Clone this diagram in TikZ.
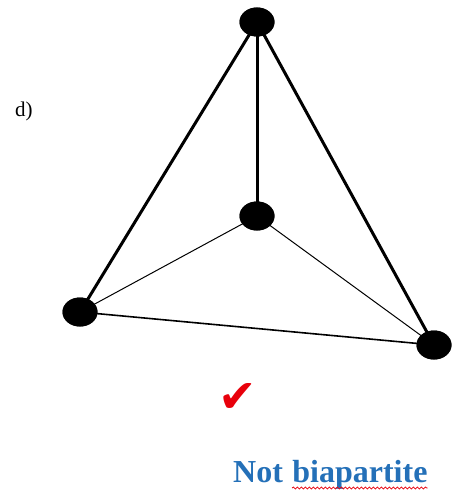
\documentclass[tikz,border=0pt]{standalone}
\usepackage{fontspec}
\setmainfont{Liberation Serif}
\newfontfamily\symfont{DejaVu Sans}
\usetikzlibrary{shapes.geometric,decorations.pathmorphing}
\definecolor{txtblue}{HTML}{2470B8}
\definecolor{chkred}{HTML}{E8000B}
\tikzset{
  vert/.style={ellipse,fill=black,inner sep=0pt,minimum width=35pt,minimum height=29pt},
  thick edge/.style={line width=3pt},
  thin edge/.style={line width=1pt},
  mid edge/.style={line width=1.6pt},
}
\begin{document}
\begin{tikzpicture}[x=1pt,y=-1pt]
\useasboundingbox (0,0) rectangle (451,492);
\node[vert] (t) at (257,22) {};
\node[vert] (m) at (257,216) {};
\node[vert] (l) at (80,312) {};
\node[vert] (r) at (434,345) {};
\draw[thick edge] (t.center) -- (l.center);
\draw[thick edge] (t.center) -- (m.center);
\draw[thick edge] (t.center) -- (r.center);
\draw[thin edge] (m.center) -- (l.center);
\draw[thin edge] (m.center) -- (r.center);
\draw[mid edge] (l.center) -- (r.center);
\node[vert] at (t) {};
\node[vert] at (m) {};
\node[vert] at (l) {};
\node[vert] at (r) {};
\node[anchor=base west,inner sep=0pt,font=\fontsize{21}{23}\selectfont] (lab) at (15,117) {d)};
\node[inner sep=0pt,text=chkred,font=\symfont\fontsize{46}{46}\selectfont] (chk) at (238,398) {✔};
\node[anchor=base west,inner sep=0pt,text=txtblue,font=\bfseries\fontsize{32}{34}\selectfont] (not) at (233,482) {Not};
\node[anchor=base west,inner sep=0pt,text=txtblue,font=\bfseries\fontsize{32}{34}\selectfont] (bip) at ([xshift=9pt]not.base east) {biapartite};
\coordinate (u1) at ([yshift=-6pt]bip.base west);
\coordinate (u2) at ([yshift=-6pt]bip.base east);
\draw[chkred,line width=0.8pt,decorate,decoration={snake,amplitude=1pt,segment length=4pt}] (u1) -- (u2);
\end{tikzpicture}
\end{document}
